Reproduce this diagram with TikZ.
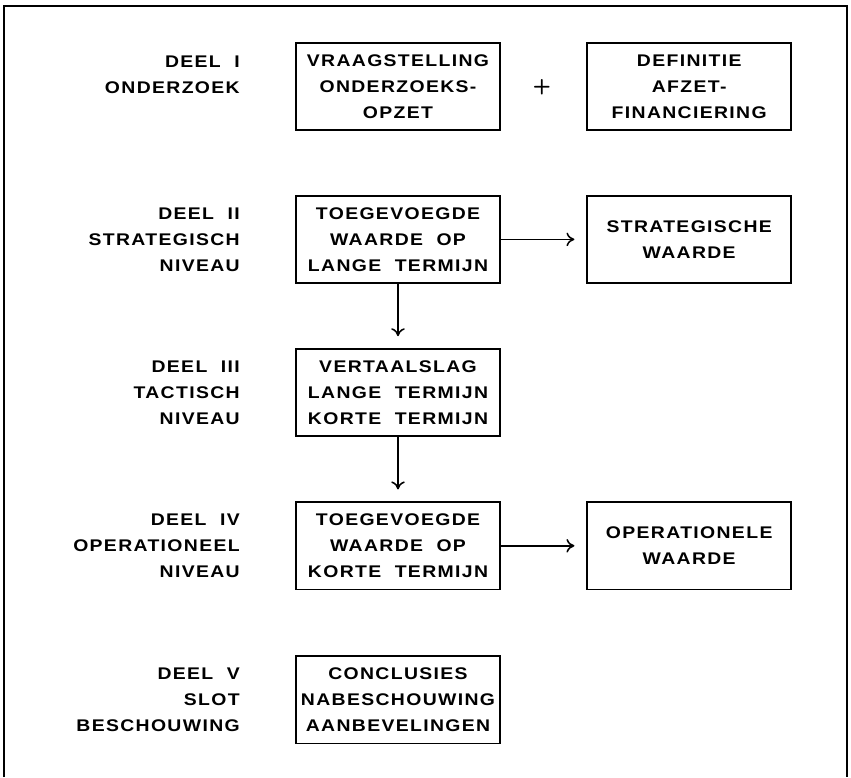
\documentclass[tikz,border=0pt]{standalone}
\usepackage{fontspec}
\usepackage{tikz}
\usetikzlibrary{arrows.meta,positioning}
\newfontfamily\plotfont[LetterSpace=8,FakeStretch=1.15,WordSpace=2]{Liberation Sans}

\begin{document}
\begin{tikzpicture}[
      font=\plotfont\bfseries\fontsize{12}{18.5}\selectfont,
      >={To[length=2mm,width=3.4mm]},
      box/.style={draw, line width=1.1pt, align=center, inner sep=2pt,
                  minimum width=5.1cm, minimum height=2.18cm},
      deel/.style={align=right, anchor=east, inner sep=0pt},
      arr/.style={->, line width=1.1pt, shorten >=0.3cm}
    ]
    \useasboundingbox (0,0) rectangle (21.275,19.425);
    \draw[line width=1.1pt] (0.1,0) -- (0.1,19.275) -- (21.175,19.275) -- (21.175,0);

    \node[deel] (l1) at (6.0,17.55) {DEEL I\\ONDERZOEK};
    \node[box] (d1) at (9.95,17.26) {VRAAGSTELLING\\ONDERZOEKS-\\OPZET};
    \node[font=\sffamily\bfseries\fontsize{15}{15}\selectfont] (p) at (13.55,17.25) {+};
    \node[box] (w1) at (17.23,17.26) {DEFINITIE\\AFZET-\\FINANCIERING};

    \node[deel] (l2) at (6.0,13.44) {DEEL II\\STRATEGISCH\\NIVEAU};
    \node[box] (d2) at (9.95,13.44) {TOEGEVOEGDE\\WAARDE OP\\LANGE TERMIJN};
    \node[box] (w2) at (17.23,13.44) {STRATEGISCHE\\WAARDE};

    \node[deel] (l3) at (6.0,9.61) {DEEL III\\TACTISCH\\NIVEAU};
    \node[box] (d3) at (9.95,9.61) {VERTAALSLAG\\LANGE TERMIJN\\KORTE TERMIJN};

    \node[deel] (l4) at (6.0,5.78) {DEEL IV\\OPERATIONEEL\\NIVEAU};
    \node[box] (d4) at (9.95,5.78) {TOEGEVOEGDE\\WAARDE OP\\KORTE TERMIJN};
    \node[box] (w4) at (17.23,5.78) {OPERATIONELE\\WAARDE};

    \node[deel] (l5) at (6.0,1.93) {DEEL V\\SLOT\\BESCHOUWING};
    \node[box] (d5) at (9.95,1.93) {CONCLUSIES\\NABESCHOUWING\\AANBEVELINGEN};

    \draw[arr] (d2) -- (w2);
    \draw[arr] (d2) -- (d3);
    \draw[arr] (d3) -- (d4);
    \draw[arr] (d4) -- (w4);
  \end{tikzpicture}
\end{document}
